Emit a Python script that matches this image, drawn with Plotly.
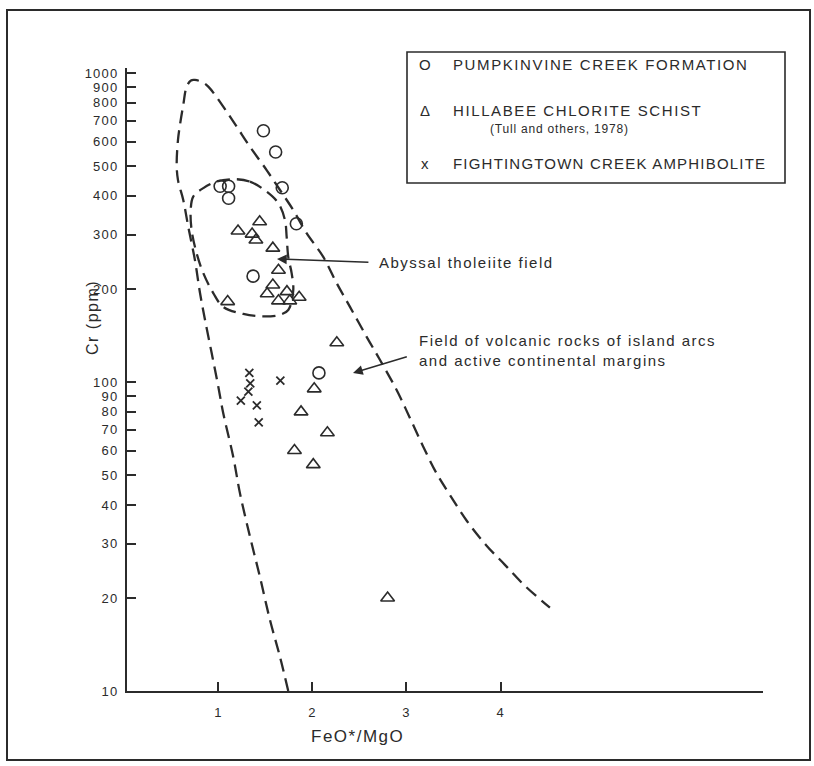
import numpy as np
import plotly.graph_objects as go

# ---------------- data ----------------
pumpkin_x = [1.48, 1.61, 1.68, 1.02, 1.11, 1.11, 1.83, 1.37, 2.07]
pumpkin_y = [650, 555, 425, 430, 430, 393, 325, 220, 107]

hillabee_x = [1.44, 1.21, 1.36, 1.40, 1.58, 1.64, 1.58, 1.52, 1.73, 1.64, 1.76, 1.86, 1.10,
              2.26, 2.02, 1.88, 2.16, 1.81, 2.01, 2.80]
hillabee_y = [330, 308, 301, 288, 271, 230, 206, 193, 196, 183, 183, 188, 182,
              134, 95, 80, 68.5, 60, 54, 20]

fighting_x = [1.33, 1.34, 1.32, 1.24, 1.41, 1.43, 1.66]
fighting_y = [107, 99, 93, 87, 84, 74, 101]

# field of volcanic rocks of island arcs / active continental margins (outer dashed curve)
outer_x = [1.744, 1.656, 1.549, 1.443, 1.337, 1.231, 1.159, 1.053, 0.997, 0.930, 0.859, 0.806,
           0.752, 0.681, 0.628, 0.572, 0.558, 0.572, 0.593, 0.628, 0.664, 0.710, 0.752, 0.827,
           0.894, 1.053, 1.196, 1.337, 1.514, 1.656, 1.797, 1.939, 2.116, 2.258, 2.400, 2.577,
           2.718, 2.896, 3.037, 3.175, 3.313, 3.462, 3.643, 3.845, 4.047, 4.259, 4.525]
outer_y = [10, 12.9, 17.0, 23.4, 31.6, 43.6, 57.3, 79.2, 97.8, 124, 159, 194,
           248, 318, 388, 450, 504, 607, 679, 788, 903, 946, 949, 935,
           903, 778, 670, 577, 485, 418, 360, 303, 254, 209, 175, 140,
           118, 94.2, 76.5, 62.1, 51.1, 43.1, 35.5, 29.7, 25.6, 21.9, 18.6]

# abyssal tholeiite field (inner closed dashed curve)
inner_x = [1.177, 1.337, 1.514, 1.638, 1.709, 1.727, 1.744, 1.780, 1.797, 1.744, 1.656, 1.478,
           1.266, 1.053, 0.947, 0.841, 0.770, 0.717, 0.707, 0.734, 0.841, 0.983, 1.177]
inner_y = [453, 445, 413, 379, 334, 295, 254, 225, 198, 171, 165, 163,
           166, 175, 194, 225, 261, 310, 360, 398, 424, 445, 453]

y_tick_vals = [10, 20, 30, 40, 50, 60, 70, 80, 90, 100, 200, 300, 400, 500, 600, 700, 800, 900, 1000]
x_tick_vals = [1, 2, 3, 4]

legend_labels = ["PUMPKINVINE CREEK FORMATION", "HILLABEE CHLORITE SCHIST",
                 "FIGHTINGTOWN CREEK AMPHIBOLITE"]
legend_sub = "(Tull and others, 1978)"

# ---------------- layout geometry ----------------
W, H = 814, 766
L, R, T, B = 127, 51, 68, 75
PW, PH = W - L - R, H - T - B
INK = "#2b2b2b"
FONT = "Liberation Sans, Arial, Helvetica, sans-serif"


def px(xp):
    return (xp - L) / PW


def py(yp):
    return (H - B - yp) / PH


def sp(text, ls=1.5):
    return '<span style="letter-spacing:%spx">%s</span>' % (ls, text)


fig = go.Figure()

dash = "13px,7px"
fig.add_trace(go.Scatter(x=outer_x, y=outer_y, mode="lines",
                         line=dict(color=INK, width=2.3, dash=dash, shape="spline", smoothing=1.0),
                         showlegend=False, hoverinfo="skip"))
fig.add_trace(go.Scatter(x=inner_x, y=inner_y, mode="lines",
                         line=dict(color=INK, width=2.3, dash=dash, shape="spline", smoothing=1.0),
                         showlegend=False, hoverinfo="skip"))

fig.add_trace(go.Scatter(x=pumpkin_x, y=pumpkin_y, mode="markers", name=legend_labels[0],
                         marker=dict(symbol="circle-open", size=12, color=INK, line=dict(width=1.6)),
                         showlegend=False))
fig.add_trace(go.Scatter(x=hillabee_x, y=hillabee_y, mode="markers", name=legend_labels[1],
                         marker=dict(symbol="triangle-up-open", size=12, color=INK, line=dict(width=1.6)),
                         showlegend=False))
fig.add_trace(go.Scatter(x=fighting_x, y=fighting_y, mode="markers", name=legend_labels[2],
                         marker=dict(symbol="x-thin-open", size=8, color=INK, line=dict(width=1.8)),
                         showlegend=False))

ann = []
# arrows (data coordinates; log axis -> log10 values)
ann.append(dict(x=1.624, y=np.log10(250), ax=2.612, ay=np.log10(244), xref="x", yref="y",
                axref="x", ayref="y", text="", showarrow=True, arrowhead=2, arrowsize=1.3,
                arrowwidth=1.5, arrowcolor=INK))
ann.append(dict(x=2.432, y=np.log10(107), ax=3.02, ay=np.log10(121), xref="x", yref="y",
                axref="x", ayref="y", text="", showarrow=True, arrowhead=2, arrowsize=1.3,
                arrowwidth=1.5, arrowcolor=INK))
# field labels
ann.append(dict(x=px(377), y=py(262), xref="paper", yref="paper", xanchor="left", yanchor="middle",
                text=sp("Abyssal tholeiite field"), showarrow=False, font=dict(size=15, color=INK, family=FONT)))
ann.append(dict(x=px(417), y=py(351), xref="paper", yref="paper", xanchor="left", yanchor="middle",
                text=sp("Field of volcanic rocks of island arcs") + "<br>" + sp("and active continental margins"),
                align="left", showarrow=False, font=dict(size=15, color=INK, family=FONT)))

# legend box content
sym = ["O", "\u0394", "x"]
rows = [65, 110, 163]
spacing = [1.6, 1.6, 1.2]
for s, t, r, ls in zip(sym, legend_labels, rows, spacing):
    ann.append(dict(x=px(425), y=py(r), xref="paper", yref="paper", xanchor="center", yanchor="middle",
                    text=s, showarrow=False, font=dict(size=15, color=INK, family=FONT)))
    ann.append(dict(x=px(451), y=py(r), xref="paper", yref="paper", xanchor="left", yanchor="middle",
                    text=sp(t, ls), showarrow=False, font=dict(size=15, color=INK, family=FONT)))
ann.append(dict(x=px(488), y=py(129), xref="paper", yref="paper", xanchor="left", yanchor="middle",
                text=sp(legend_sub, 0.8), showarrow=False, font=dict(size=12, color=INK, family=FONT)))

# axis titles
ann.append(dict(x=px(92), y=py(318), xref="paper", yref="paper", xanchor="center", yanchor="middle",
                text=sp("Cr (ppm)", 1.5), textangle=-90, showarrow=False,
                font=dict(size=16, color=INK, family=FONT)))
ann.append(dict(x=px(357), y=py(736), xref="paper", yref="paper", xanchor="center", yanchor="middle",
                text=sp("FeO*/MgO", 1.5), showarrow=False, font=dict(size=17, color=INK, family=FONT)))

shapes = [
    # legend box
    dict(type="rect", xref="paper", yref="paper", x0=px(407), x1=px(785), y0=py(183), y1=py(52),
         line=dict(color=INK, width=1.6)),
    # outer frame
    dict(type="rect", xref="paper", yref="paper", x0=px(7), x1=px(810), y0=py(760), y1=py(10),
         line=dict(color=INK, width=2)),
]

fig.update_layout(
    width=W, height=H,
    margin=dict(l=L, r=R, t=T, b=B, pad=0),
    paper_bgcolor="white", plot_bgcolor="white",
    font=dict(family=FONT, color=INK),
    annotations=ann, shapes=shapes, showlegend=False,
)

fig.update_xaxes(range=[0.03, 6.79], showgrid=False, zeroline=False, showline=True,
                 linecolor=INK, linewidth=2, ticks="inside", ticklen=9, tickwidth=1.5, tickcolor=INK,
                 tickvals=x_tick_vals, ticktext=[sp(str(v), 1) for v in x_tick_vals],
                 tickfont=dict(size=13, color=INK), ticklabelstandoff=8)
fig.update_yaxes(type="log", range=[1, 3.016], showgrid=False, zeroline=False, showline=True,
                 linecolor=INK, linewidth=2, ticks="inside", ticklen=9, tickwidth=1.5, tickcolor=INK,
                 tickvals=y_tick_vals, ticktext=[sp(str(v), 1.2) for v in y_tick_vals],
                 tickfont=dict(size=13, color=INK), ticklabelstandoff=4)

fig.write_html("out.html", config={"displayModeBar": False},
               post_script="document.body.style.margin='0';document.body.style.overflow='hidden';")
